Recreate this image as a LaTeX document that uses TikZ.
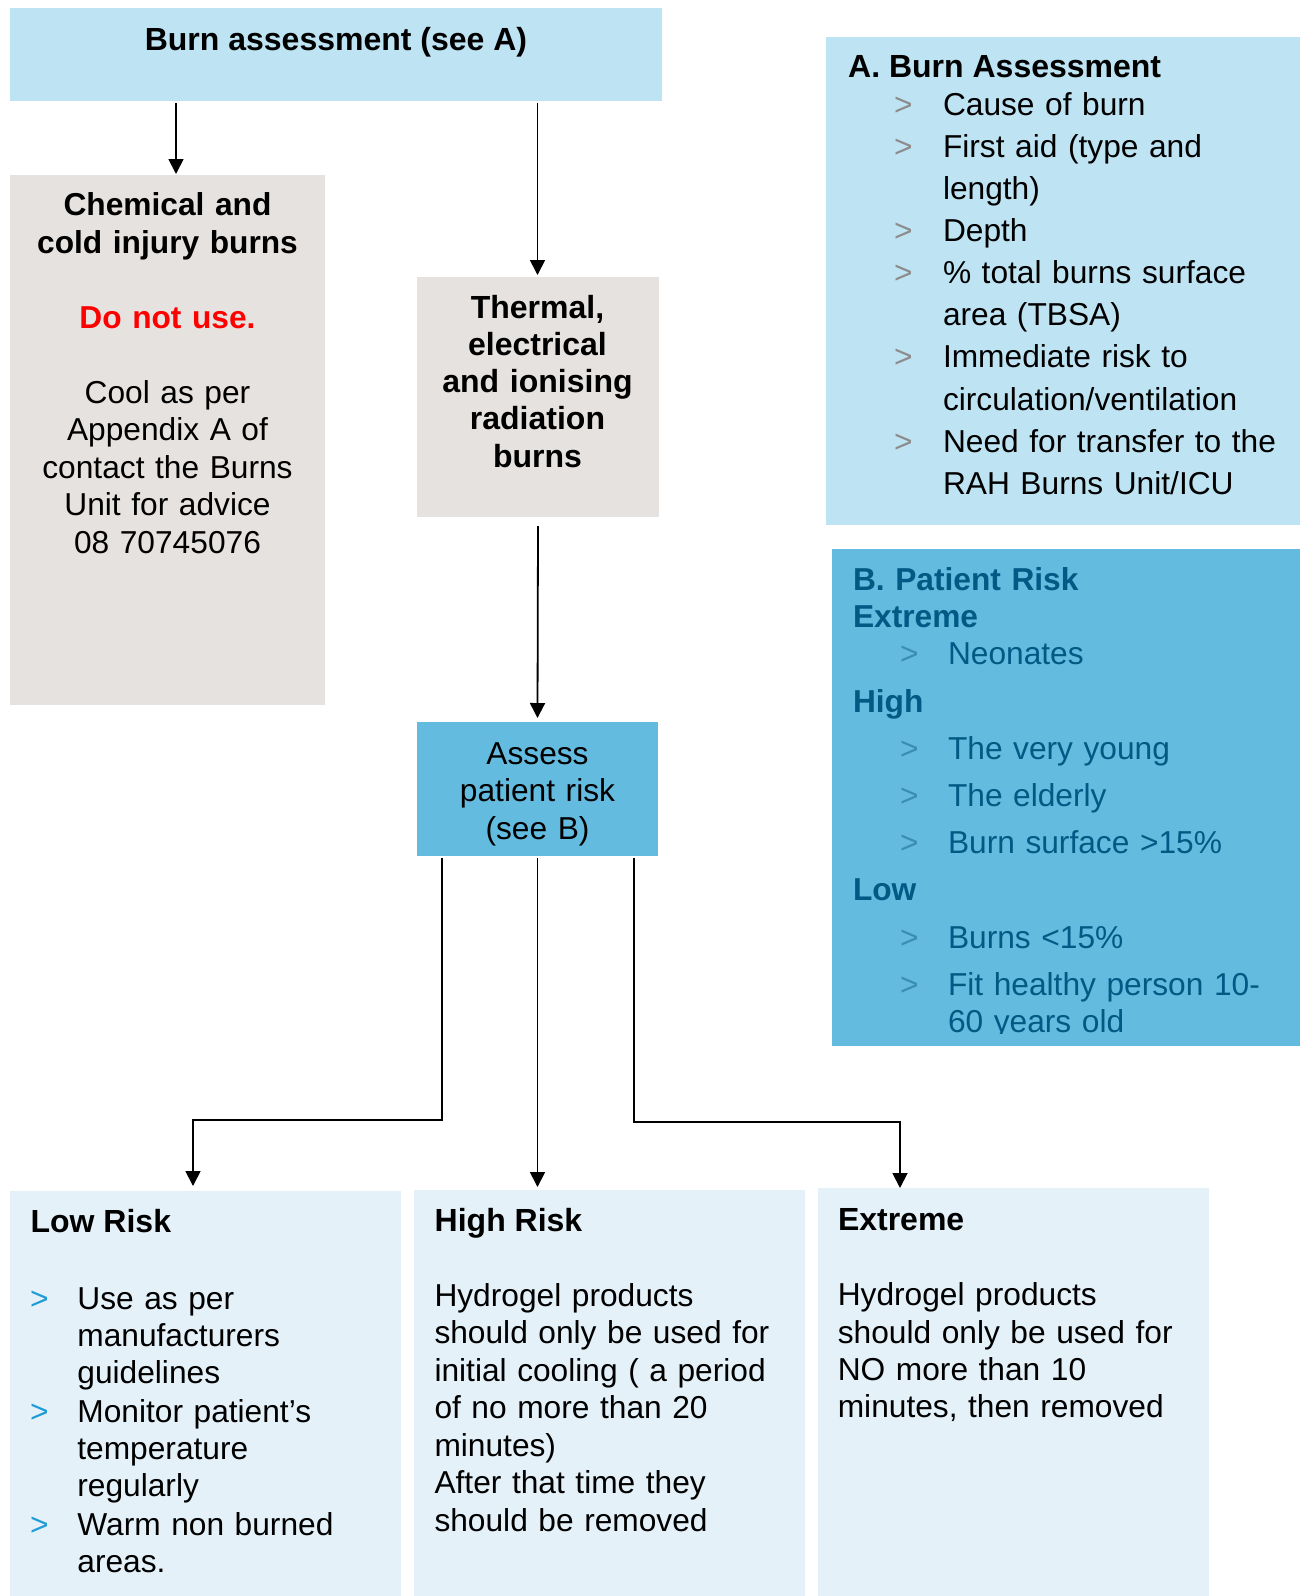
\documentclass[tikz,border=0pt]{standalone}
\usepackage{fontspec}
\setmainfont{Liberation Sans}
\usetikzlibrary{arrows.meta}

\definecolor{paleblue}{HTML}{BEE3F3}
\definecolor{midblue}{HTML}{63BBE0}
\definecolor{warmgrey}{HTML}{E6E2DF}
\definecolor{iceblue}{HTML}{E4F1F8}
\definecolor{navytext}{HTML}{005A84}
\definecolor{tealbullet}{HTML}{3A8DB5}
\definecolor{greybullet}{HTML}{8C8C8C}
\definecolor{brightbullet}{HTML}{1F9BD8}
\definecolor{alarm}{HTML}{FF0000}

% strut that fixes the height of the first line of a text block
\newcommand{\lnstrut}{\rule{0pt}{25pt}}
% bullet mark of a given colour in a box of a given width
\newcommand{\mybullet}[2]{\makebox[#2][l]{\textcolor{#1}{>}}}

\tikzset{
  box/.style={rectangle, draw=none, inner sep=0pt, outer sep=0pt, anchor=north west},
  txt/.style={inner sep=0pt, outer sep=0pt, text width=#1},
  txt/.default=420pt,
  arr/.style={line width=1.8pt, -{Triangle[length=15pt,width=15pt]}},
}

\begin{document}
\begin{tikzpicture}[x=1pt, y=-1pt]
  \useasboundingbox (0,0) rectangle (1301,1596);
  \fill[white] (0,0) rectangle (1301,1596);

  % ---------- boxes ----------
  \node[box, fill=paleblue, minimum width=652pt, minimum height=93pt] (burn) at (10,8) {};
  \node[box, fill=warmgrey, minimum width=315pt, minimum height=530pt] (chem) at (10,175) {};
  \node[box, fill=warmgrey, minimum width=242pt, minimum height=240pt] (thermal) at (417,277) {};
  \node[box, fill=midblue, minimum width=241pt, minimum height=134pt] (assess) at (417,722) {};
  \node[box, fill=paleblue, minimum width=474pt, minimum height=488pt] (boxA) at (826,37) {};
  \node[box, fill=midblue, minimum width=468pt, minimum height=497pt] (boxB) at (832,549) {};
  \node[box, fill=iceblue, minimum width=391pt, minimum height=405pt] (low) at (10,1191) {};
  \node[box, fill=iceblue, minimum width=391pt, minimum height=406pt] (high) at (414,1190) {};
  \node[box, fill=iceblue, minimum width=391pt, minimum height=408pt] (extreme) at (818,1188) {};

  % ---------- texts ----------
  \node[anchor=base, inner sep=0pt, font=\bfseries\fontsize{32}{37.5}\selectfont]
    (burntxt) at (336,50) {Burn assessment (see A)};

  \node[txt=300pt, anchor=north, align=center, font=\fontsize{31.7}{37.5}\selectfont]
    (chemtxt) at (167.5,190.6)
    {\lnstrut\textbf{Chemical and}\\\textbf{cold injury burns}\\[37.5pt]%
     \textcolor{alarm}{\textbf{Do not use.}}\\[37.5pt]%
     Cool as per\\Appendix A of\\contact the Burns\\Unit for advice\\08 70745076};

  \node[txt=236pt, anchor=north, align=center, font=\bfseries\fontsize{32}{37.2}\selectfont]
    (thermaltxt) at (537.5,293.3)
    {\lnstrut Thermal,\\electrical\\and ionising\\radiation\\burns};

  \node[txt=236pt, anchor=north, align=center, font=\fontsize{31.7}{37.5}\selectfont]
    (assesstxt) at (537.5,739.3)
    {\lnstrut Assess\\patient risk\\(see B)};

  % panel A
  \node[anchor=base west, inner sep=0pt, font=\bfseries\fontsize{32}{37.5}\selectfont]
    (atitle) at (848,77.5) {A. Burn Assessment};
  \node[txt=400pt, anchor=north west, align=left, font=\fontsize{31.7}{42.15}\selectfont]
    (alist) at (894,90)
    {\lnstrut\mybullet{greybullet}{49pt}Cause of burn\\
     \mybullet{greybullet}{49pt}First aid (type and\\
     \hspace*{49pt}length)\\
     \mybullet{greybullet}{49pt}Depth\\
     \mybullet{greybullet}{49pt}\% total burns surface\\
     \hspace*{49pt}area (TBSA)\\
     \mybullet{greybullet}{49pt}Immediate risk to\\
     \hspace*{49pt}circulation/ventilation\\
     \mybullet{greybullet}{49pt}Need for transfer to the\\
     \hspace*{49pt}RAH Burns Unit/ICU};

  % panel B (its text frame cuts the last line)
  \begin{scope}
    \clip (832,549) rectangle (1300,1033.5);
    \node[txt=440pt, anchor=north west, align=left, text=navytext,
          font=\fontsize{31.7}{37.4}\selectfont]
      (blist) at (853,565)
      {\lnstrut\textbf{B. Patient Risk}\\
       \textbf{Extreme}\\
       \hspace*{47pt}\mybullet{tealbullet}{48pt}Neonates\\[9.8pt]
       \textbf{High}\\[9.8pt]
       \hspace*{47pt}\mybullet{tealbullet}{48pt}The very young\\[9.8pt]
       \hspace*{47pt}\mybullet{tealbullet}{48pt}The elderly\\[9.8pt]
       \hspace*{47pt}\mybullet{tealbullet}{48pt}Burn surface >15\%\\[9.8pt]
       \textbf{Low}\\[9.8pt]
       \hspace*{47pt}\mybullet{tealbullet}{48pt}Burns <15\%\\[9.8pt]
       \hspace*{47pt}\mybullet{tealbullet}{48pt}Fit healthy person 10-\\
       \hspace*{95pt}60 years old};
  \end{scope}

  % low risk
  \node[anchor=base west, inner sep=0pt, font=\bfseries\fontsize{32}{37.5}\selectfont]
    (lowtitle) at (30.4,1232.7) {Low Risk};
  \node[txt=370pt, anchor=north west, align=left, font=\fontsize{31.7}{36.9}\selectfont]
    (lowlist) at (30,1284.2)
    {\lnstrut\mybullet{brightbullet}{47.4pt}Use as per\\
     \hspace*{47.4pt}manufacturers\\
     \hspace*{47.4pt}guidelines\\[2.5pt]
     \mybullet{brightbullet}{47.4pt}Monitor patient’s\\
     \hspace*{47.4pt}temperature\\
     \hspace*{47.4pt}regularly\\[2.5pt]
     \mybullet{brightbullet}{47.4pt}Warm non burned\\
     \hspace*{47.4pt}areas.};

  % high risk
  \node[anchor=base west, inner sep=0pt, font=\bfseries\fontsize{32}{37.5}\selectfont]
    (hightitle) at (434.5,1231) {High Risk};
  \node[txt=370pt, anchor=north west, align=left, font=\fontsize{31.7}{37.5}\selectfont]
    (hightxt) at (434.5,1281.3)
    {\lnstrut Hydrogel products\\should only be used for\\initial cooling ( a period\\of no more than 20\\minutes)\\After that time they\\should be removed};

  % extreme
  \node[anchor=base west, inner sep=0pt, font=\bfseries\fontsize{32}{37.5}\selectfont]
    (extremetitle) at (837.8,1230) {Extreme};
  \node[txt=370pt, anchor=north west, align=left, font=\fontsize{31.7}{37.4}\selectfont]
    (extremetxt) at (837.8,1280.7)
    {\lnstrut Hydrogel products\\should only be used for\\NO more than 10\\minutes, then removed};

  % ---------- connectors ----------
  \draw[arr, shorten <=2pt, shorten >=1pt] (burn.south -| 176,0) -- (chem.north -| 176,0);
  \draw[arr, shorten <=2pt, shorten >=2pt] (burn.south -| 537.5,0) -- (thermal.north -| 537.5,0);
  \draw[arr] ([yshift=-9pt]thermal.south) -- ([yshift=4pt]assess.north);
  \draw[arr, shorten >=5pt] ([xshift=-95.5pt,yshift=-2pt]assess.south) -- ++(0,262) -| (low.north -| 193,0);
  \draw[arr, shorten >=3pt] ([yshift=-2pt]assess.south) -- (high.north -| assess.south);
  \draw[arr] ([xshift=96.5pt,yshift=-2pt]assess.south) -- ++(0,264) -| (extreme.north -| 900,0);
\end{tikzpicture}
\end{document}
